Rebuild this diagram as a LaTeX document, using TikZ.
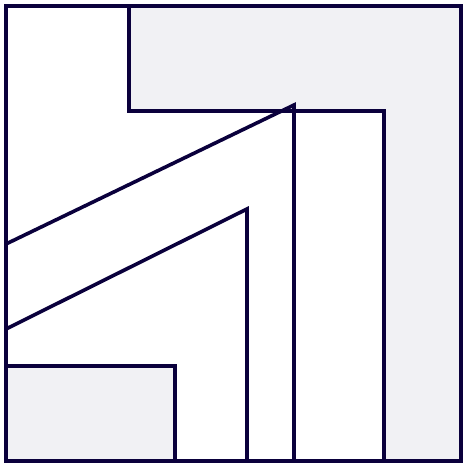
\documentclass[tikz,border=0pt]{standalone}
\definecolor{ink}{RGB}{10,0,60}
\definecolor{shade}{RGB}{241,241,244}
\begin{document}
\begin{tikzpicture}[x=1pt,y=-1pt,
    wall/.style={draw=ink,line width=3.6pt,miter limit=20},
    zone/.style={fill=shade}]
    \useasboundingbox (0,0) rectangle (471,471);
    \fill[zone] (129,6) -- (461,6) -- (461,461) -- (384,461) -- (384,111) -- (129,111) -- cycle;
    \fill[zone] (6,366) rectangle (175,461);
    \draw[wall] (6,6) rectangle (461,461);
    \draw[wall] (129,6) -- (129,111) -- (384,111) -- (384,461);
    \draw[wall] (6,244) -- (294,105) -- (294,461);
    \draw[wall] (6,329) -- (247,209) -- (247,461);
    \draw[wall] (6,366) -- (175,366) -- (175,461);
\end{tikzpicture}
\end{document}
